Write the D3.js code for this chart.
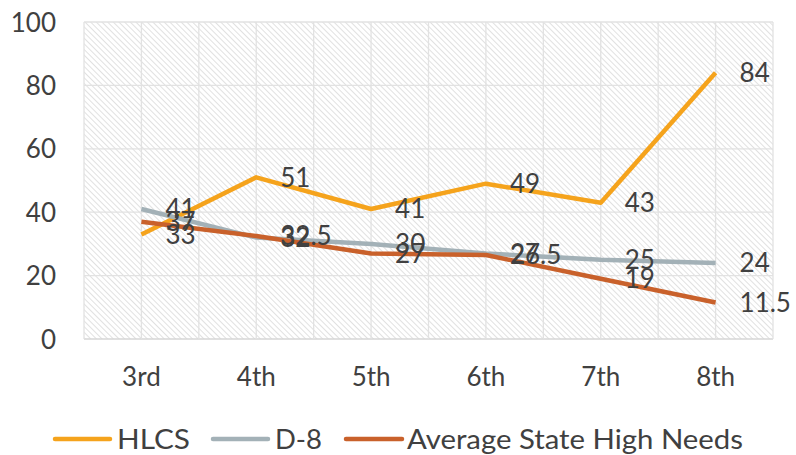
<!DOCTYPE html>
<html><head><meta charset="utf-8">
<script src="https://cdn.jsdelivr.net/npm/d3@7"></script>
<style>
html,body{margin:0;padding:0;background:#fff;}
text{font-family:Lato,"Open Sans",sans-serif;fill:#404040;}
</style></head>
<body><svg id="c" width="796" height="455"></svg>
<script>
const categories = ["3rd","4th","5th","6th","7th","8th"];
const seriesNames = ["HLCS","D-8","Average State High Needs"];
const hlcs = [33,51,41,49,43,84];
const d8 = [41,32,30,27,25,24];
const avgHigh = [37,32.5,27,26.5,19,11.5];
const yTicks = [0,20,40,60,80,100];
const colors = ["#F5A31C","#A3B1B7","#C9612B"];

(function(){
const series = [hlcs,d8,avgHigh].map((v,i)=>({name:seriesNames[i],values:v,color:colors[i]}));

const svg = d3.select("#c");
const pL=84, pR=773, pT=22, pB=339;

const defs = svg.append("defs");
const pat = defs.append("pattern").attr("id","hatch").attr("patternUnits","userSpaceOnUse")
  .attr("width",4).attr("height",4).attr("patternTransform","rotate(-45)");
pat.append("rect").attr("width",4).attr("height",4).attr("fill","#fff");
pat.append("line").attr("x1",0).attr("y1",0).attr("x2",0).attr("y2",4)
  .attr("stroke","#dadada").attr("stroke-width",1.6);

const x = d3.scaleBand().domain(categories).range([pL,pR]);
const xc = d => x(d)+x.bandwidth()/2;
const y = d3.scaleLinear().domain([0,100]).range([pB,pT]);

svg.append("rect").attr("x",pL).attr("y",pT).attr("width",pR-pL).attr("height",pB-pT)
  .attr("fill","url(#hatch)");

const g = svg.append("g");
yTicks.forEach(t=>{
  g.append("line").attr("x1",pL).attr("x2",pR).attr("y1",y(t)).attr("y2",y(t))
   .attr("stroke", t===0 ? "#d6d6d6" : "#e2e2e2").attr("stroke-width",1.3);
});
const vx = [];
categories.forEach(c=>{ vx.push(x(c)); vx.push(xc(c)); });
vx.push(pR);
vx.forEach(v=>{
  g.append("line").attr("x1",v).attr("x2",v).attr("y1",pT).attr("y2",pB)
   .attr("stroke","#e2e2e2").attr("stroke-width",1.3);
});

const yAxis = d3.axisLeft(y).tickValues(yTicks).tickSize(0).tickPadding(0);
const ya = svg.append("g").attr("transform",`translate(56,0)`).call(yAxis);
ya.select(".domain").remove();
ya.selectAll("text").style("font-size","26px").attr("dy","0.35em");

const xAxis = d3.axisBottom(x).tickSize(0).tickPadding(0);
const xa = svg.append("g").attr("transform",`translate(0,${pB+27})`).call(xAxis);
xa.select(".domain").remove();
xa.selectAll("text").style("font-size","26px").attr("dy","0.75em");

const line = d3.line().x((d,i)=>xc(categories[i])).y(d=>y(d));
series.forEach(s=>{
  svg.append("path").attr("d",line(s.values)).attr("fill","none")
    .attr("stroke",s.color).attr("stroke-width",4.5).attr("stroke-linejoin","round");
});
series.forEach(s=>{
  s.values.forEach((v,i)=>{
    svg.append("text").attr("x",xc(categories[i])+24).attr("y",y(v)).attr("dy","0.36em")
      .style("font-size","26px").text(v);
  });
});

const legend = [
  {x1:55,x2:110,tx:117,w:73},
  {x1:213,x2:268,tx:275,w:47},
  {x1:346,x2:402,tx:407,w:336}
];
legend.forEach((l,i)=>{
  svg.append("line").attr("x1",l.x1).attr("x2",l.x2).attr("y1",439).attr("y2",439)
    .attr("stroke",series[i].color).attr("stroke-width",4.5).attr("stroke-linecap","round");
  svg.append("text").attr("x",l.tx).attr("y",439).attr("dy","0.36em")
    .attr("textLength",l.w).attr("lengthAdjust","spacingAndGlyphs")
    .style("font-size","27px").text(series[i].name);
});
})();
</script></body></html>
